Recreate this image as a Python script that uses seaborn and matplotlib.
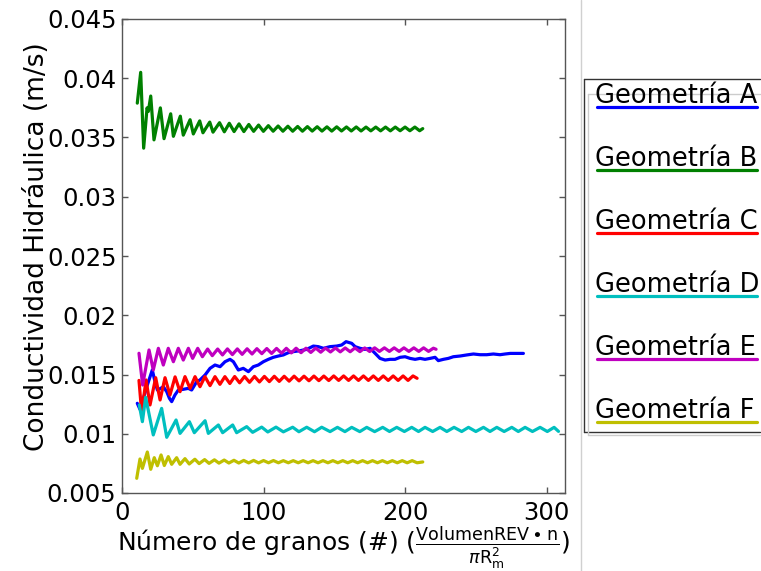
import numpy as np
import pandas as pd
import matplotlib
matplotlib.use("Agg")
import matplotlib.pyplot as plt
import seaborn as sns
from matplotlib.lines import Line2D

# ---------------- data ----------------
series_names = ["Geometría A", "Geometría B", "Geometría C",
                "Geometría D", "Geometría E", "Geometría F"]
series_colors = ["#0000ff", "#008000", "#ff0000", "#00bfbf", "#bf00bf", "#bfbf00"]

x_A = [10.8, 12.7, 15.1, 17.9, 21.4, 23.3, 25.0, 27.3, 29.2, 31.6, 33.5, 35.1, 37.4, 39.8,
       43.3, 46.9, 49.2, 52.8, 55.1, 58.7, 62.2, 65.7, 69.3, 72.8, 76.3, 78.7, 82.2, 85.7,
       89.3, 92.8, 96.3, 99.9, 103.4, 106.9, 110.5, 114.0, 117.5, 121.1, 125.8, 130.5,
       135.2, 138.7, 142.3, 147.0, 151.7, 155.2, 158.3, 162.3, 164.7, 168.2, 171.7, 175.3,
       178.8, 182.3, 185.9, 189.4, 192.9, 196.5, 200.0, 203.5, 207.1, 210.6, 214.1, 217.7,
       221.2, 223.5, 227.1, 230.6, 234.1, 238.9, 243.6, 248.3, 253.0, 257.7, 262.4, 267.1,
       270.7, 274.3, 278.9, 283.6]
y_A = [0.01257, 0.01206, 0.01299, 0.01411, 0.01538, 0.01440, 0.01369, 0.01383, 0.01397,
       0.01355, 0.01299, 0.01271, 0.01327, 0.01369, 0.01375, 0.01383, 0.01369, 0.01440,
       0.01454, 0.01496, 0.01552, 0.01580, 0.01566, 0.01608, 0.01628, 0.01608, 0.01538,
       0.01552, 0.01524, 0.01566, 0.01580, 0.01608, 0.01628, 0.01645, 0.01656, 0.01665,
       0.01684, 0.01693, 0.01701, 0.01712, 0.01740, 0.01735, 0.01721, 0.01735, 0.01740,
       0.01749, 0.01777, 0.01763, 0.01735, 0.01721, 0.01712, 0.01721, 0.01679, 0.01636,
       0.01622, 0.01628, 0.01628, 0.01645, 0.01650, 0.01636, 0.01628, 0.01636, 0.01628,
       0.01636, 0.01645, 0.01617, 0.01628, 0.01636, 0.01650, 0.01656, 0.01665, 0.01673,
       0.01667, 0.01667, 0.01673, 0.01667, 0.01673, 0.01678, 0.01678, 0.01678]

x_B = [10.8, 13.2, 15.3, 17.7, 18.6, 20.3, 22.6, 27.1, 29.7, 34.4, 36.3, 41.2, 43.3, 48.1,
       50.4, 54.9, 57.2, 62.0, 64.3, 68.9, 72.3, 75.8, 79.2, 82.7, 86.1, 89.6, 93.0, 96.5,
       99.9, 103.4, 106.8, 110.3, 113.7, 117.2, 120.6, 124.1, 127.5, 131.0, 134.4, 137.9,
       141.3, 144.8, 148.2, 151.7, 155.1, 158.6, 162.0, 165.5, 168.9, 172.4, 175.8, 179.3,
       182.7, 186.2, 189.6, 193.1, 196.5, 200.0, 203.4, 206.9, 210.3, 212.5]
y_B = [0.0379, 0.0405, 0.0341, 0.0375, 0.0372, 0.0385, 0.0348, 0.0375, 0.0349, 0.0370,
       0.0351, 0.0368, 0.0352, 0.0365, 0.0353, 0.0364, 0.0354, 0.03630, 0.03545, 0.03625,
       0.03548, 0.03620, 0.03550, 0.03615, 0.03550, 0.03610, 0.03552, 0.03605, 0.03552,
       0.03600, 0.03553, 0.03597, 0.03553, 0.03595, 0.03553, 0.03593, 0.03553, 0.03592,
       0.03554, 0.03591, 0.03554, 0.03590, 0.03554, 0.03590, 0.03555, 0.03589, 0.03555,
       0.03589, 0.03555, 0.03588, 0.03556, 0.03588, 0.03556, 0.03588, 0.03556, 0.03588,
       0.03557, 0.03588, 0.03557, 0.03588, 0.03557, 0.03575]

x_C = [12.0, 13.9, 17.0, 19.8, 23.8, 26.9, 30.4, 33.9, 37.5, 41.0, 44.5, 48.1, 51.6, 55.1,
       58.6, 62.2, 65.7, 69.2, 72.7, 76.2, 79.6, 83.1, 86.6, 90.1, 93.6, 97.1, 100.6, 104.1,
       107.6, 111.1, 114.6, 118.1, 121.6, 125.1, 128.6, 132.1, 135.6, 139.1, 142.6, 146.1,
       149.6, 153.1, 156.6, 160.1, 163.6, 167.1, 170.6, 174.1, 177.6, 181.1, 184.6, 188.1,
       191.6, 195.1, 198.6, 202.1, 205.6, 208.5]
y_C = [0.01450, 0.01180, 0.01454, 0.01243, 0.01473, 0.01285, 0.01473, 0.01327, 0.01480,
       0.01355, 0.01482, 0.01383, 0.01482, 0.01397, 0.01482, 0.01406, 0.01482, 0.01417,
       0.01482, 0.01424, 0.01483, 0.01430, 0.01483, 0.01434, 0.01484, 0.01437, 0.01484,
       0.01440, 0.01485, 0.01442, 0.01485, 0.01444, 0.01486, 0.01446, 0.01486, 0.01447,
       0.01487, 0.01448, 0.01487, 0.01449, 0.01488, 0.01450, 0.01488, 0.01450, 0.01488,
       0.01450, 0.01488, 0.01450, 0.01488, 0.01450, 0.01488, 0.01450, 0.01488, 0.01450,
       0.01488, 0.01450, 0.01488, 0.01468]

x_D = [12.2, 14.4, 16.7, 22.1, 28.0, 31.6, 38.2, 41.0, 47.6, 51.1, 58.7, 61.0, 68.1, 71.1,
       78.2, 81.0, 88.1, 92.3, 98.7, 103.0, 108.8, 114.0, 120.6, 125.0, 130.5, 136.0, 141.1,
       147.0, 152.2, 157.5, 162.3, 168.0, 172.9, 178.5, 184.2, 189.0, 194.1, 199.5, 204.7,
       209.5, 214.1, 219.5, 224.7, 229.5, 234.6, 240.0, 244.8, 250.0, 255.4, 260.0, 264.8,
       270.0, 275.4, 280.0, 284.8, 290.0, 295.4, 300.5, 305.3, 308.4]
y_D = [0.01243, 0.01102, 0.01308, 0.00990, 0.01214, 0.00970, 0.01116, 0.01003, 0.01102,
       0.01009, 0.01110, 0.01003, 0.01074, 0.01009, 0.01074, 0.01009, 0.01060, 0.01012,
       0.01056, 0.01015, 0.01056, 0.01016, 0.01055, 0.01017, 0.01055, 0.01017, 0.01055,
       0.01018, 0.01054, 0.01018, 0.01054, 0.01018, 0.01054, 0.01018, 0.01054, 0.01019,
       0.01054, 0.01019, 0.01054, 0.01019, 0.01054, 0.01019, 0.01054, 0.01019, 0.01054,
       0.01019, 0.01054, 0.01019, 0.01054, 0.01019, 0.01054, 0.01019, 0.01054, 0.01019,
       0.01054, 0.01019, 0.01054, 0.01019, 0.01054, 0.01020]

x_E = [12.0, 14.6, 19.1, 22.1, 25.7, 29.2, 32.7, 36.3, 39.8, 43.3, 46.9, 49.9, 53.5, 56.8,
       60.5, 63.8, 67.6, 71.0, 74.5, 78.0, 81.5, 84.9, 88.4, 91.9, 95.3, 98.8, 102.3, 105.7,
       109.2, 112.7, 116.1, 119.6, 123.0, 126.5, 130.0, 133.4, 136.9, 140.4, 143.8, 147.3,
       150.8, 154.2, 157.7, 161.2, 164.6, 168.1, 171.5, 175.0, 178.5, 181.9, 185.4, 188.9,
       192.3, 195.8, 199.2, 202.7, 206.2, 209.7, 213.1, 216.6, 220.0, 221.9]
y_E = [0.01679, 0.01411, 0.01707, 0.01538, 0.01721, 0.01580, 0.01721, 0.01608, 0.01721,
       0.01622, 0.01721, 0.01636, 0.01721, 0.01650, 0.01715, 0.01659, 0.01715, 0.01665,
       0.01716, 0.01668, 0.01716, 0.01670, 0.01717, 0.01673, 0.01718, 0.01676, 0.01719,
       0.01678, 0.01720, 0.01680, 0.01721, 0.01682, 0.01722, 0.01684, 0.01722, 0.01686,
       0.01723, 0.01688, 0.01723, 0.01690, 0.01724, 0.01691, 0.01724, 0.01692, 0.01724,
       0.01693, 0.01724, 0.01694, 0.01725, 0.01695, 0.01725, 0.01695, 0.01725, 0.01695,
       0.01725, 0.01695, 0.01725, 0.01695, 0.01725, 0.01695, 0.01722, 0.01713]

x_F = [10.4, 12.7, 14.4, 17.9, 20.3, 22.8, 25.0, 27.6, 29.9, 32.7, 35.1, 38.6, 41.0, 44.5,
       47.5, 51.5, 54.5, 58.4, 61.5, 65.3, 68.5, 72.2, 75.5, 79.1, 82.5, 86.0, 89.5, 93.0,
       96.5, 100.0, 103.5, 107.0, 110.5, 114.0, 117.5, 121.0, 124.5, 128.0, 131.5, 135.0,
       138.5, 142.0, 145.5, 149.0, 152.5, 156.0, 159.5, 163.0, 166.5, 170.0, 173.5, 177.0,
       180.5, 184.0, 187.5, 191.0, 194.5, 198.0, 201.5, 205.0, 208.5, 212.5]
y_F = [0.00624, 0.00787, 0.00708, 0.00846, 0.00700, 0.00798, 0.00730, 0.00821, 0.00732,
       0.00807, 0.00742, 0.00798, 0.00742, 0.00790, 0.00745, 0.00785, 0.00748, 0.00782,
       0.00750, 0.00780, 0.00752, 0.00778, 0.00753, 0.00776, 0.00753, 0.00775, 0.00754,
       0.00775, 0.00754, 0.00774, 0.00755, 0.00774, 0.00755, 0.00773, 0.00755, 0.00773,
       0.00755, 0.00773, 0.00755, 0.00773, 0.00755, 0.00773, 0.00755, 0.00773, 0.00755,
       0.00773, 0.00755, 0.00773, 0.00755, 0.00773, 0.00755, 0.00773, 0.00755, 0.00773,
       0.00755, 0.00773, 0.00755, 0.00773, 0.00755, 0.00773, 0.00755, 0.00762]

x_ticks = [0, 100, 200, 300]
y_ticks = [0.005, 0.01, 0.015, 0.02, 0.025, 0.03, 0.035, 0.04, 0.045]
y_tick_labels = ["0.005", "0.01", "0.015", "0.02", "0.025", "0.03", "0.035", "0.04", "0.045"]
x_label = r"Número de granos (#) ($\frac{\mathrm{VolumenREV}\bullet\mathrm{n}}{\pi\mathrm{R}_{\mathrm{m}}^{2}}$)"
y_label = "Conductividad Hidráulica (m/s)"

# ---------------- build long table ----------------
all_x = [x_A, x_B, x_C, x_D, x_E, x_F]
all_y = [y_A, y_B, y_C, y_D, y_E, y_F]
frames = []
for name, xs, ys in zip(series_names, all_x, all_y):
    frames.append(pd.DataFrame({"x": xs, "y": ys, "serie": name}))
df = pd.concat(frames, ignore_index=True)

# ---------------- style ----------------
sns.set_style("ticks")
plt.rcParams["font.family"] = ["DejaVu Sans"]
plt.rcParams["mathtext.fontset"] = "dejavusans"
plt.rcParams["text.color"] = "black"
plt.rcParams["axes.labelcolor"] = "black"
plt.rcParams["xtick.labelcolor"] = "black"
plt.rcParams["ytick.labelcolor"] = "black"

fig = plt.figure(figsize=(7.61, 5.71), dpi=100)
ax = fig.add_axes([122 / 761, 1 - 493 / 571, (565 - 122) / 761, (493 - 19) / 571])

sns.lineplot(data=df, x="x", y="y", hue="serie", hue_order=series_names,
             palette=dict(zip(series_names, series_colors)), sort=False,
             estimator=None, linewidth=2.3, legend=False, ax=ax)

ax.set_xlim(0, 313)
ax.set_ylim(0.005, 0.045)
ax.set_xticks(x_ticks)
ax.set_xticklabels([str(t) for t in x_ticks])
ax.set_yticks(y_ticks)
ax.set_yticklabels(y_tick_labels)
ax.tick_params(direction="in", top=True, right=True, length=4, width=1,
               color="#555555", labelcolor="black", labelsize=17.5, pad=4)
ax.tick_params(axis="x", pad=6)
for s in ax.spines.values():
    s.set_color("#555555")
    s.set_linewidth(1)

ax.set_xlabel(x_label, fontsize=18, labelpad=0, color="black")
ax.set_ylabel(y_label, fontsize=19, color="black")
ax.yaxis.set_label_coords(-0.162, 0.52)

# ---------------- figure decorations / legend ----------------
W, H = 761.0, 571.0
fig.add_artist(Line2D([580.7 / W, 580.7 / W], [0, 1], color="#d0d0d0", lw=1))
# outer legend frame (open on the right, cut by the figure edge)
fig.add_artist(Line2D([0.999, 584 / W], [1 - 79 / H, 1 - 79 / H], color="#333333", lw=1))
fig.add_artist(Line2D([584 / W, 584 / W], [1 - 79 / H, 1 - 432 / H], color="#333333", lw=1))
fig.add_artist(Line2D([584 / W, 0.999], [1 - 432 / H, 1 - 432 / H], color="#333333", lw=1))
# faint inner frame
fig.add_artist(Line2D([0.999, 588 / W], [1 - 94 / H, 1 - 94 / H], color="#cccccc", lw=1))
fig.add_artist(Line2D([588 / W, 588 / W], [1 - 94 / H, 1 - 435 / H], color="#cccccc", lw=1))
fig.add_artist(Line2D([588 / W, 0.999], [1 - 435 / H, 1 - 435 / H], color="#cccccc", lw=1))
for i, (name, col) in enumerate(zip(series_names, series_colors)):
    yl = 106.7 + i * 63.0
    fig.add_artist(Line2D([597 / W, 757 / W], [1 - yl / H, 1 - yl / H],
                          color=col, lw=2.3))
    fig.text(595 / W, 1 - (yl - 4) / H, name, fontsize=18.5, va="baseline",
             ha="left", color="black")

fig.savefig("out.png", dpi=100)
